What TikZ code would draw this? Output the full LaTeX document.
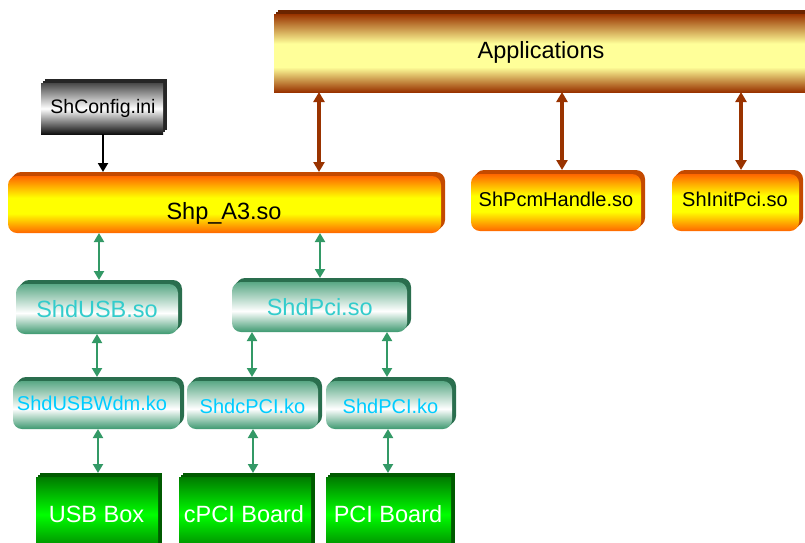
\documentclass[tikz,border=0pt]{standalone}
\usepackage{fontspec}
\setmainfont{Liberation Sans}
\usetikzlibrary{arrows.meta,shadows}

\definecolor{appBrown}{HTML}{993300}
\definecolor{appYellow}{HTML}{FFFF99}
\definecolor{appEdge}{HTML}{6B2400}
\definecolor{soOrange}{HTML}{FF6600}
\definecolor{soYellow}{HTML}{FFFF00}
\definecolor{soEdge}{HTML}{C44A00}
\definecolor{drvGreen}{HTML}{3D9970}
\definecolor{drvEdge}{HTML}{2A6E4E}
\definecolor{hwDark}{HTML}{007A00}
\definecolor{hwLight}{HTML}{00FF00}
\definecolor{hwEdge}{HTML}{005A00}
\definecolor{cfgGrey}{HTML}{4A4A4A}
\definecolor{cfgDark}{HTML}{111111}
\definecolor{soText}{HTML}{33CCCC}
\definecolor{koText}{HTML}{00CCFF}
\definecolor{linkGreen}{HTML}{339966}

% vertical colour ramps; a filled path is fitted to the band 25bp..75bp
\pgfdeclareverticalshading{appramp}{100bp}{color(0bp)=(appBrown); color(25bp)=(appBrown);
  color(41bp)=(appYellow); color(56bp)=(appYellow); color(75bp)=(appBrown); color(100bp)=(appBrown)}
\pgfdeclareverticalshading{libramp}{100bp}{color(0bp)=(soOrange); color(25bp)=(soOrange);
  color(42bp)=(soYellow); color(56bp)=(soYellow); color(75bp)=(soOrange); color(100bp)=(soOrange)}
\pgfdeclareverticalshading{drvramp}{100bp}{color(0bp)=(drvGreen); color(25bp)=(drvGreen);
  color(46bp)=(white); color(75bp)=(drvGreen!85); color(100bp)=(drvGreen!85)}
\pgfdeclareverticalshading{hwramp}{100bp}{color(0bp)=(hwDark); color(25bp)=(hwDark);
  color(50bp)=(hwLight); color(75bp)=(hwDark); color(100bp)=(hwDark)}
\pgfdeclareverticalshading{cfgramp}{100bp}{color(0bp)=(cfgDark); color(25bp)=(cfgDark);
  color(50bp)=(white); color(75bp)=(cfgGrey); color(100bp)=(cfgGrey)}

\tikzset{
  face/.style={draw=none, inner sep=0pt, outer sep=0pt, anchor=north west},
  extrude/.style={
    copy shadow={shadow xshift=4pt, shadow yshift=4pt, fill=#1, draw=none},
    copy shadow={shadow xshift=2pt, shadow yshift=2pt, fill=#1, draw=none}},
  appbox/.style={face, extrude=appEdge, shade, shading=appramp, shading angle=0},
  libbox/.style={face, rounded corners=9pt, extrude=soEdge, shade, shading=libramp, shading angle=0},
  drvbox/.style={face, rounded corners=9pt, extrude=drvEdge, shade, shading=drvramp, shading angle=0},
  hwbox/.style={face, extrude=hwEdge, shade, shading=hwramp, shading angle=0},
  cfgbox/.style={face, extrude=black!85, shade, shading=cfgramp, shading angle=0},
  lbl/.style={anchor=base, inner sep=0pt},
  big/.style={lbl, font=\fontsize{23.5}{28}\selectfont},
  small/.style={lbl, font=\fontsize{20}{24}\selectfont},
  brownlink/.style={draw=appBrown, line width=4pt,
    arrows={Triangle[width=11pt,length=10pt]-Triangle[width=11pt,length=10pt]}},
  greenlink/.style={draw=linkGreen, line width=2pt,
    arrows={Triangle[width=10pt,length=9pt]-Triangle[width=10pt,length=9pt]}},
  cfglink/.style={draw=black, line width=2pt,
    arrows={-Triangle[width=10pt,length=9pt]}},
}

\begin{document}
\begin{tikzpicture}[x=1pt, y=-1pt]
  \useasboundingbox (0,0) rectangle (805,542);

  % ---- boxes (front faces; the darker extrusion sits up and to the right)
  \node[appbox, minimum width=540pt, minimum height=78pt] (app) at (274,14) {};
  \node[cfgbox, minimum width=122pt, minimum height=51pt] (cfg) at (41,83) {};
  \node[libbox, minimum width=433pt, minimum height=57pt] (shp) at (8,176) {};
  \node[libbox, minimum width=170pt, minimum height=57pt] (pcm) at (471,174) {};
  \node[libbox, minimum width=127pt, minimum height=57pt] (init) at (672,174) {};
  \node[drvbox, minimum width=162pt, minimum height=50pt] (usb) at (16,284) {};
  \node[drvbox, minimum width=175pt, minimum height=50pt] (pci) at (232,282) {};
  \node[drvbox, minimum width=167pt, minimum height=48pt] (wdm) at (13,381) {};
  \node[drvbox, minimum width=131pt, minimum height=48pt] (cko) at (187,381) {};
  \node[drvbox, minimum width=126pt, minimum height=48pt] (pko) at (326,381) {};
  \node[hwbox, minimum width=122pt, minimum height=75pt] (usbbox) at (36,477) {};
  \node[hwbox, minimum width=132pt, minimum height=75pt] (cboard) at (179,477) {};
  \node[hwbox, minimum width=125pt, minimum height=75pt] (pboard) at (326,477) {};

  % ---- labels
  \node[big] (tapp) at (541,58.5) {Applications};
  \node[small, font=\fontsize{19.5}{24}\selectfont] (tcfg) at (103,113) {ShConfig.ini};
  \node[big] (tshp) at (224,219) {Shp\_A3.so};
  \node[small] (tpcm) at (556,206.7) {ShPcmHandle.so};
  \node[small] (tinit) at (735,206.7) {ShInitPci.so};
  \node[big, text=soText] (tusb) at (97,317.7) {ShdUSB.so};
  \node[big, text=soText] (tpci) at (319.7,315) {ShdPci.so};
  \node[small, text=koText] (twdm) at (92,410.7) {ShdUSBWdm.ko};
  \node[small, text=koText] (tcko) at (252.5,413.3) {ShdcPCI.ko};
  \node[small, text=koText] (tpko) at (390.5,413.3) {ShdPCI.ko};
  \node[big, text=white] (tusbbox) at (96.5,522.3) {USB Box};
  \node[big, text=white] (tcboard) at (244,522.3) {cPCI Board};
  \node[big, text=white] (tpboard) at (388,522.3) {PCI Board};

  % ---- connector columns
  \coordinate (xcfg) at (103,0);
  \coordinate (xshp) at (319,0);
  \coordinate (xpcm) at (562,0);
  \coordinate (xinit) at (741,0);
  \coordinate (xusb) at (99,0);
  \coordinate (xpci) at (320,0);
  \coordinate (xwdm) at (97,0);
  \coordinate (xcko) at (252,0);
  \coordinate (xpko) at (387,0);
  \coordinate (xusbbox) at (98,0);
  \coordinate (xcboard) at (253,0);
  \coordinate (xpboard) at (388,0);

  % ---- connectors
  \draw[cfglink] (cfg.south -| xcfg) -- ([yshift=4pt]shp.north -| xcfg);
  \draw[brownlink] (app.south -| xshp) -- ([yshift=4pt]shp.north -| xshp);
  \draw[brownlink] (app.south -| xpcm) -- ([yshift=4pt]pcm.north -| xpcm);
  \draw[brownlink] (app.south -| xinit) -- ([yshift=4pt]init.north -| xinit);
  \draw[greenlink] (shp.south -| xusb) -- ([yshift=4pt]usb.north -| xusb);
  \draw[greenlink] (shp.south -| xpci) -- ([yshift=4pt]pci.north -| xpci);
  \draw[greenlink] (usb.south -| xwdm) -- ([yshift=4pt]wdm.north -| xwdm);
  \draw[greenlink] (pci.south -| xcko) -- ([yshift=4pt]cko.north -| xcko);
  \draw[greenlink] (pci.south -| xpko) -- ([yshift=4pt]pko.north -| xpko);
  \draw[greenlink] (wdm.south -| xusbbox) -- ([yshift=4pt]usbbox.north -| xusbbox);
  \draw[greenlink] (cko.south -| xcboard) -- ([yshift=4pt]cboard.north -| xcboard);
  \draw[greenlink] (pko.south -| xpboard) -- ([yshift=4pt]pboard.north -| xpboard);
\end{tikzpicture}
\end{document}
